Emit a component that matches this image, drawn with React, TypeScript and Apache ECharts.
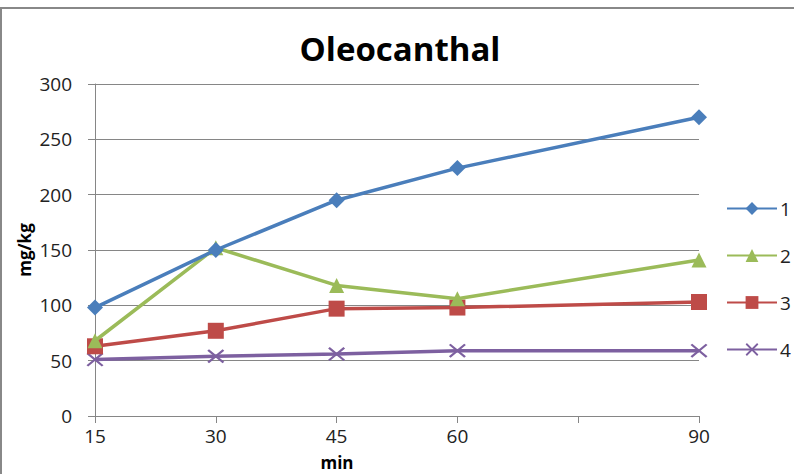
import React, { useEffect, useRef } from "react";
import * as echarts from "echarts";

const minutes = [15, 30, 45, 60, 90];
const seriesNames = ["1", "2", "3", "4"];
const series1 = [98, 150, 195, 224, 270];
const series2 = [68, 152, 118, 106, 141];
const series3 = [63, 77, 97, 98, 103];
const series4 = [51, 54, 56, 59, 59];
const colors = ["#4A7EBB", "#9BBB59", "#BE4B48", "#7D60A0"];
const symbols = [
  "diamond",
  "triangle",
  "rect",
  "path://M0,1L1,0L10,9L9,10ZM9,0L10,1L1,10L0,9Z",
];
const symbolSizes: any[] = [16, 15, 16, [17, 14]];
const allValues = [series1, series2, series3, series4];
const xTickLabels = ["15", "30", "45", "60", "", "90"];

export default function App() {
  const ref = useRef<HTMLDivElement>(null);
  useEffect(() => {
    if (!ref.current) return;
    const chart = echarts.init(ref.current, null, { renderer: "svg" });
    const font = "'Open Sans', sans-serif";
    chart.setOption({
      animation: false,
      backgroundColor: "#ffffff",
      grid: { left: 95, right: 95, top: 84, bottom: 58 },
      xAxis: {
        type: "value",
        min: 15,
        max: 90,
        interval: 15,
        axisLine: { show: true, lineStyle: { color: "#868686", width: 1 } },
        axisTick: { show: true, length: 7, lineStyle: { color: "#868686" } },
        splitLine: { show: false },
        axisLabel: {
          margin: 10,
          fontSize: 19,
          fontFamily: font,
          color: "#222",
          formatter: (v: number) => xTickLabels[Math.round((v - 15) / 15)] ?? "",
        },
      },
      yAxis: {
        type: "value",
        min: 0,
        max: 300,
        interval: 50,
        axisLine: { show: true, lineStyle: { color: "#868686", width: 1 } },
        axisTick: { show: true, length: 7, lineStyle: { color: "#868686" } },
        splitLine: { show: true, lineStyle: { color: "#868686", width: 1 } },
        axisLabel: { margin: 23, fontSize: 19, fontFamily: font, color: "#222" },
      },
      legend: {
        orient: "vertical",
        left: 726,
        top: 199,
        padding: 0,
        itemWidth: 50,
        itemHeight: 16,
        itemGap: 28,
        textStyle: { fontSize: 19, fontFamily: font, color: "#222", padding: [0, 0, 0, -2] },
        data: seriesNames,
      },
      series: seriesNames.map((name, i) => ({
        name,
        type: "line",
        data: minutes.map((m, j) => [m, allValues[i][j]]),
        symbol: symbols[i],
        symbolSize: symbolSizes[i],
        color: colors[i],
        lineStyle: { width: 3.5, color: colors[i] },
        itemStyle: { color: colors[i] },
        z: 10 - i,
      })),
      graphic: [
        { type: "rect", shape: { x: 0, y: 7, width: 794, height: 2 }, style: { fill: "#888" }, silent: true },
        { type: "rect", shape: { x: 0, y: 7, width: 2, height: 467 }, style: { fill: "#888" }, silent: true },
        {
          type: "text",
          x: 400,
          y: 48,
          style: {
            text: "Oleocanthal",
            fontSize: 33,
            fontWeight: "bold",
            fontFamily: font,
            fill: "#000",
            textAlign: "center",
            textVerticalAlign: "middle",
          },
        },
        {
          type: "text",
          x: 337,
          y: 462,
          style: {
            text: "min",
            fontSize: 17,
            fontWeight: "bold",
            fontFamily: font,
            fill: "#000",
            textAlign: "center",
            textVerticalAlign: "middle",
          },
        },
        {
          type: "text",
          x: 24,
          y: 250,
          rotation: Math.PI / 2,
          style: {
            text: "mg/kg",
            fontSize: 17,
            fontWeight: "bold",
            fontFamily: font,
            fill: "#000",
            textAlign: "center",
            textVerticalAlign: "middle",
          },
        },
      ],
    });
    return () => chart.dispose();
  }, []);
  return (
    <div
      ref={ref}
      style={{ position: "fixed", left: 0, top: 0, width: 794, height: 474, background: "#fff" }}
    />
  );
}
